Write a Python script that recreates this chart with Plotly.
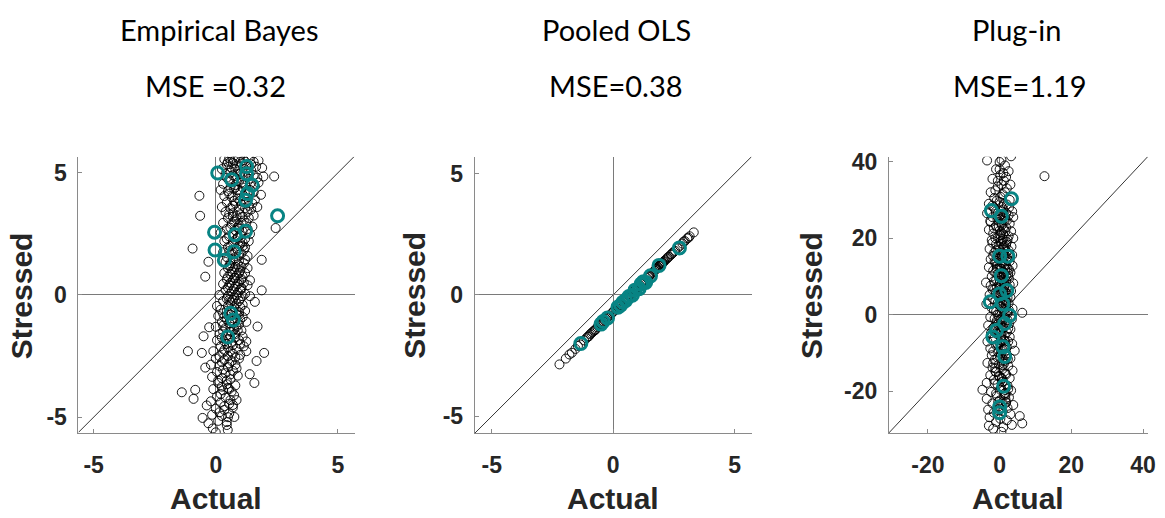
import plotly.graph_objects as go

W, H = 1165, 518

# ---------------- Data ----------------
# Panel 1: Empirical Bayes (black = all, teal = highlighted)
eb_x = [0.35,0.55,0.75,0.95,1.15,1.35,1.55,1.75,0.45,0.85,1.05,1.25,1.65,0.25,0.65,0.9,1.45,1.9,0.4,0.7,1.1,1.7,1.95,0.55,0.95,1.35,0.3,0.8,1.2,1.6,
        0.2,0.5,0.75,1.0,1.4,1.85,0.35,0.65,0.9,1.15,1.6,0.45,0.8,1.05,1.35,1.7,0.25,0.6,0.95,
        0.4,0.7,1.0,1.3,1.55,0.5,0.85,1.15,0.3,0.65,0.95,1.25,1.5,0.45,0.8,1.1,0.2,1.4,
        0.55,0.9,1.2,0.35,0.7,1.0,1.35,0.5,0.85,1.15,0.3,0.65,0.95,1.3,0.45,0.8,
        0.4,0.6,0.9,1.15,0.5,0.75,1.0,1.3,0.35,0.6,0.85,1.1,0.45,0.7,0.95,1.4,
        0.3,0.55,0.8,1.05,1.3,0.4,0.65,0.9,1.2,0.15,0.5,0.75,1.0,1.4,0.3,0.6,0.85,1.1,0.05,
        0.2,0.45,0.7,0.95,1.2,0.1,0.35,0.85,1.1,0.25,0.55,0.95,1.25,0.0,0.4,0.75,1.05,
        0.15,0.45,0.8,1.1,0.05,0.35,0.65,0.95,1.25,0.2,0.5,0.85,1.15,-0.1,0.3,0.7,1.0,
        0.0,0.35,0.65,0.95,-0.2,0.15,0.5,0.8,0.05,0.4,0.7,-0.15,0.25,0.6,0.9,
        0.1,0.45,0.8,-0.1,0.3,0.65,0.05,0.4,0.75,-0.2,0.2,0.55,0.85,
        0.0,0.35,0.7,-0.15,0.25,0.55,0.1,0.45,-0.3,
        -0.67,-0.64,-0.95,-0.43,-0.3,2.39,2.45,1.88,1.88,1.6,1.71,1.98,1.67,1.39,1.58,-1.14,-0.57,-0.5,-0.27,-1.39,-0.84,-0.91,-0.54,-0.37,-0.12,0.0,0.45,0.49,0.76,-0.43,
        0.6,1.0,0.8,0.7,0.9,1.1,0.6,0.75,1.05,0.55,0.95,0.65,1.25,0.85,0.5,0.7,
        0.5,0.7,1.0,1.2,1.45,0.6,0.8,1.0,1.3,1.55,0.45,0.85,1.05,1.45,1.75,0.6,0.9,1.1,1.3,1.55,0.55,0.75,1.0,1.25,1.5,0.7,1.2,1.45,
        0.55,0.85,1.1,1.35,0.75,1.05,0.6,0.95,1.3,0.7,1.0,0.45,0.8,1.1,0.6,0.95,1.2,0.55,0.8,1.05,0.7,0.95,1.2,0.55,0.8,1.05,
        0.65,0.95,1.2,0.5,0.8,1.05,0.6,0.9,1.15,0.5,0.75,1.0,0.6,0.85,1.1,0.45,0.7,0.95,0.5,0.75,1.0,0.3,0.6,0.85,0.45,0.7,1.0,
        0.3,0.6,0.85,0.3,0.6,0.9,0.25,0.55,0.8,0.45,0.7,1.0,0.35,0.6,0.15,0.5,0.8,0.25,0.55,0.3,0.6,0.1,0.45,0.25,0.55,0.2,0.6,0.35,0.15,0.5]
eb_y = [5.55,5.6,5.5,5.58,5.52,5.6,5.45,5.5,5.35,5.3,5.38,5.3,5.25,5.15,5.2,5.05,5.1,5.2,4.95,4.9,4.85,4.8,4.85,4.7,4.65,4.75,4.55,4.5,4.55,4.45,
        4.3,4.25,4.35,4.2,4.3,4.1,4.05,4.0,3.95,4.05,3.9,3.8,3.75,3.7,3.65,3.6,3.6,3.55,3.5,
        3.4,3.35,3.3,3.4,3.25,3.15,3.1,3.05,2.95,2.9,2.85,2.95,2.8,2.7,2.65,2.6,2.55,2.5,
        2.4,2.35,2.3,2.2,2.15,2.1,2.2,1.95,1.9,1.85,1.75,1.7,1.65,1.6,1.55,1.5,
        1.35,1.3,1.25,1.3,1.1,1.05,1.0,1.1,0.9,0.85,0.8,0.75,0.65,0.6,0.55,0.6,
        0.45,0.4,0.35,0.3,0.4,0.2,0.15,0.1,0.05,0.0,-0.05,-0.1,-0.15,-0.05,-0.25,-0.3,-0.35,-0.4,-0.45,
        -0.6,-0.65,-0.6,-0.7,-0.65,-0.85,-0.9,-0.95,-0.9,-1.1,-1.15,-1.2,-1.1,-1.3,-1.35,-1.4,-1.45,
        -1.6,-1.65,-1.6,-1.7,-1.85,-1.9,-1.95,-1.85,-1.9,-2.1,-2.15,-2.2,-2.1,-2.3,-2.35,-2.4,-2.45,
        -2.6,-2.65,-2.7,-2.6,-2.85,-2.9,-2.95,-2.85,-3.15,-3.2,-3.1,-3.35,-3.4,-3.45,-3.3,
        -3.6,-3.65,-3.7,-3.85,-3.9,-3.95,-4.15,-4.2,-4.1,-4.35,-4.4,-4.45,-4.3,
        -4.65,-4.7,-4.6,-4.9,-4.95,-4.85,-5.15,-5.2,-5.25,
        4.06,3.24,1.9,0.75,1.36,4.85,2.74,1.44,0.19,-0.28,-1.29,-2.37,-2.7,-3.24,-3.6,-2.3,-2.37,-1.69,-1.32,-3.98,-3.88,-4.25,-5.03,-4.52,-5.46,-5.62,-5.32,-5.52,-4.99,-2.97,
        5.45,5.0,4.4,3.2,2.75,2.0,1.2,0.7,0.25,-0.2,-0.8,-1.5,-2.3,-3.0,-3.8,-4.5,
        5.45,5.4,5.45,5.45,5.35,5.0,5.15,4.95,5.0,4.9,4.8,4.75,4.6,4.6,4.6,4.4,4.3,4.4,4.15,4.2,4.15,3.85,3.85,3.8,3.75,3.65,3.55,3.5,
        3.3,3.25,3.2,3.15,3.0,2.95,2.75,2.7,2.7,2.5,2.45,2.3,2.25,2.15,2.0,2.0,1.95,1.8,1.75,1.7,1.45,1.4,1.45,1.2,1.15,1.15,
        0.95,0.9,0.9,0.75,0.7,0.65,0.5,0.45,0.5,0.3,0.25,0.2,0.05,0.0,-0.05,-0.15,-0.2,-0.25,-0.45,-0.5,-0.5,-0.75,-0.8,-0.8,-1.0,-1.05,-1.0,
        -1.25,-1.3,-1.3,-1.5,-1.5,-1.45,-1.75,-1.8,-1.75,-2.0,-2.05,-2.0,-2.25,-2.3,-2.5,-2.5,-2.55,-2.75,-2.8,-3.05,-3.25,-3.5,-3.5,-3.75,-3.85,-4.05,-4.3,-4.55,-4.8,-5.0]
eb_tx = [0.08,0.65,1.26,1.26,1.49,1.30,1.22,2.53,-0.05,1.22,0.79,-0.03,0.75,0.35,0.61,0.72,0.49]
eb_ty = [4.99,4.72,5.26,4.96,4.49,4.15,3.88,3.24,2.57,2.61,2.47,1.84,1.77,1.42,-0.75,-1.02,-1.72]

# Panel 2: Pooled OLS
po_x = [-2.21,-1.95,-1.8,-1.7,-1.55,-1.45,-1.35,-1.2,-1.1,-1.0,-0.9,-0.8,-0.72,-0.65,-0.55,-0.48,-0.4,-0.3,-0.22,-0.15,
        -0.05,0.05,0.12,0.2,0.28,0.35,0.42,0.5,0.58,0.65,0.72,0.8,0.88,0.95,1.02,1.1,1.18,1.25,1.32,1.4,
        1.48,1.55,1.62,1.7,1.78,1.85,1.92,2.0,2.08,2.15,2.22,2.3,2.38,2.45,2.55,2.65,2.75,2.85,2.95,3.05,3.15,3.32,
        0.3,0.6,0.9,1.2,1.5,1.8,2.1,-0.35,-0.6,0.15,1.95,2.05,-1.05,-0.85,2.5,2.9,3.1,
        -0.95,-0.75,-0.5,-0.25,0.0,0.25,0.55,0.85,1.15,1.45,1.75,2.02,2.25,2.4,1.9,1.98]
po_y = [-2.86,-2.62,-2.45,-2.38,-2.22,-2.1,-2.04,-1.87,-1.78,-1.7,-1.58,-1.48,-1.42,-1.33,-1.22,-1.18,-1.1,-0.98,-0.9,-0.85,
        -0.74,-0.64,-0.58,-0.48,-0.42,-0.34,-0.28,-0.2,-0.12,-0.05,0.02,0.1,0.18,0.25,0.32,0.4,0.47,0.55,0.62,0.7,
        0.78,0.85,0.92,1.0,1.08,1.15,1.22,1.3,1.37,1.44,1.5,1.58,1.66,1.73,1.82,1.93,2.03,2.12,2.22,2.33,2.42,2.58,
        -0.4,-0.1,0.2,0.5,0.8,1.1,1.4,-1.05,-1.28,-0.55,1.27,1.33,-1.72,-1.53,1.78,2.2,2.36,
        -1.62,-1.45,-1.2,-0.93,-0.7,-0.45,-0.15,0.15,0.45,0.75,1.05,1.32,1.55,1.68,1.2,1.25]
po_tx = [-1.33,-0.41,-0.23,0.31,0.52,0.79,1.07,1.34,1.54,1.89,2.73,0.4,0.65,0.9,1.15,1.25,0.2,-0.5]
po_ty = [-2.0,-1.09,-0.95,-0.42,-0.22,-0.01,0.26,0.52,0.79,1.22,1.94,-0.3,-0.06,0.2,0.45,0.55,-0.5,-1.2]

# Panel 3: Plug-in
pi_x = [0.5,-3.5,0.0,3.2,1.5,-1.0,2.5,0.2,-2.0,1.2,3.0,-0.5,2.0,-2.5,0.8,-1.5,2.8,12.5,
        -3.0,0.0,2.0,-1.5,1.0,3.5,-3.5,-0.5,2.5,-2.0,1.5,3.8,0.0,
        -2.5,0.5,2.8,-1.0,1.8,-3.0,0.0,3.2,-1.8,1.0,2.5,-0.5,3.8,
        -2.2,0.3,2.0,-1.0,1.3,3.3,-2.8,0.0,2.5,-1.5,1.0,3.5,-0.5,2.0,
        -2.5,0.5,2.8,-1.2,1.5,3.6,-3.0,0.0,2.2,-1.8,1.0,3.0,-0.6,1.8,-2.2,
        0.2,2.6,-3.8,-1.0,1.2,3.8,-2.5,0.0,2.2,-1.5,1.0,3.2,-0.3,2.0,-2.8,
        0.8,3.0,-1.8,1.5,-3.7,-0.5,2.5,0.3,-2.2,3.6,1.2,-1.0,6.3,2.2,0.0,
        -2.6,1.5,3.4,-0.8,0.6,2.6,-3.2,-1.5,1.0,3.0,-0.5,2.0,-2.4,
        0.5,2.8,-1.8,1.2,-3.4,0.0,3.5,-1.0,2.0,-2.6,0.8,4.2,-0.4,
        1.8,-2.2,0.2,3.0,-1.4,1.2,-3.4,-0.2,2.4,-2.0,0.8,3.6,-1.0,
        1.6,-2.6,0.0,2.8,-1.6,1.0,-3.6,-0.6,2.2,-4.8,0.4,3.2,
        -2.4,1.4,-0.8,2.6,-3.6,0.0,1.8,-2.0,3.8,-0.4,2.2,-3.2,
        0.8,-1.6,3.0,5.6,-2.8,0.2,2.0,-1.0,6.3,3.4,-3.0,1.0,0.5,-1.8,
        0.5,1.5,0.8,0.2,1.6,0.6,1.4,0.4,1.8,0.6,1.2,0.2,1.6,0.4,1.2,0.6,1.6,0.8,1.2,0.4,1.4,0.7,
        -0.2,0.9,1.9,-0.8,0.1,1.1,2.1,-0.6,0.3,1.3,2.3,-1.2,0.7,1.7,-0.4,0.9,1.5,-0.9,0.2,2.4,
        0.0,1.0,-0.5,1.8,0.5,-1.2,1.5,0.2,-0.8,1.2,-2.0,0.6,2.6,-1.0,1.8,0.2,-2.6,1.0,2.0,-0.6,0.6,-1.6,1.6,0.2,-1.2,2.2,0.8,-2.0,1.8,-0.2,
        1.0,-1.0,2.6,0.4,-1.8,1.4,-0.4,2.2,-1.4,0.6,1.8,-0.8,0.4,2.6,-1.2,1.2,-0.2,2.4,0.8,-1.6,1.8,0.0,2.8,-0.8,1.2,-2.0,0.4,2.4,-1.0,1.6,
        0.2,2.2,-1.2,0.8,-0.2,1.8,-1.6,0.6,2.6,-0.6,1.4,-1.4,0.2,2.2,-0.4,1.6,-1.8,0.4,2.4,-0.8,1.4,-1.6,0.6,2.4,-0.6,1.6,-1.8,0.4,2.0,-0.6,
        1.2,-1.8,0.8,-1.2,1.8,-0.2,0.6,-1.4,2.4,0.2,-1.0,1.6,-0.4,1.8]
pi_y = [40.5,40.3,39.9,41.4,39.0,38.0,37.5,36.5,35.5,35.0,34.0,33.5,33.0,32.0,31.5,30.5,30.0,36.2,
        29.0,29.5,28.8,28.0,27.5,27.0,26.5,26.5,26.0,25.5,25.2,25.5,25.0,
        24.2,24.0,23.8,23.2,22.8,22.2,22.0,21.8,21.2,21.0,20.5,20.2,20.0,
        19.5,19.2,19.0,18.4,18.0,17.8,17.2,17.0,16.8,16.2,16.0,15.6,15.2,15.0,
        14.5,14.2,14.0,13.5,13.2,12.8,12.4,12.2,12.0,11.5,11.2,11.0,10.5,10.2,10.0,
        9.6,9.4,8.4,9.0,8.6,8.2,7.6,7.4,7.2,6.6,6.4,6.2,5.6,5.4,5.2,
        4.8,4.5,4.2,3.8,2.8,3.2,3.0,2.2,1.8,1.6,1.2,0.8,0.5,0.4,0.2,
        -0.6,-0.8,-1.2,-1.6,-2.0,-2.4,-2.8,-3.2,-3.4,-3.8,-4.2,-4.6,-4.8,
        -5.4,-5.8,-6.2,-6.6,-7.0,-7.4,-7.6,-8.0,-8.4,-8.8,-9.2,-9.4,-9.8,
        -10.2,-10.6,-11.0,-11.4,-11.8,-12.2,-12.6,-13.0,-13.4,-13.8,-14.2,-14.6,-15.0,
        -15.4,-15.8,-16.2,-16.6,-17.0,-17.4,-17.8,-18.2,-18.6,-19.6,-19.2,-19.8,
        -20.2,-20.6,-21.2,-21.6,-22.0,-22.4,-22.8,-23.2,-23.6,-24.0,-24.4,-24.8,
        -25.2,-25.6,-26.0,-26.5,-26.8,-27.2,-27.6,-28.0,-28.4,-28.8,-29.0,-29.4,-30.6,-29.8,
        18.5,17.0,14.8,13.0,11.8,9.8,7.8,6.0,3.6,1.6,-1.2,-4.8,-7.0,-9.4,-12.8,-16.8,-21.0,-23.4,22.5,21.5,24.6,27.0,
        23.0,19.8,16.4,12.0,8.8,4.0,1.0,-2.6,-6.0,-9.0,-11.6,-14.0,-17.6,-20.4,-25.0,-3.6,5.0,14.0,20.8,10.8,
        38.0,37.0,35.0,36.0,34.0,32.5,32.0,30.8,29.8,29.0,28.5,28.2,28.0,27.0,26.5,26.0,24.5,25.4,24.6,24.8,23.4,22.6,21.8,20.8,20.0,19.6,19.4,18.8,18.2,17.8,
        17.6,16.8,16.0,15.8,15.4,15.2,14.6,14.4,14.0,13.6,13.0,12.6,12.0,11.8,11.0,10.6,10.0,10.2,9.2,8.8,8.8,8.2,7.8,7.2,7.0,6.6,6.6,6.4,5.8,5.8,
        4.6,4.4,3.6,3.4,2.6,2.4,1.2,0.8,1.2,0.0,0.2,-1.0,-1.2,-1.4,-2.4,-2.8,-3.6,-3.8,-3.6,-5.0,-5.4,-6.4,-6.8,-7.0,-7.8,-8.4,-9.6,-10.2,-10.6,-11.2,
        -11.8,-12.6,-13.2,-14.8,-15.6,-16.0,-16.6,-18.0,-19.4,-19.6,-20.6,-22.0,-22.8,-23.0]
pi_tx = [3.3,-2.3,0.5,0.0,2.3,0.5,0.0,2.0,-2.6,0.9,2.8,1.4,-0.9,-1.9,0.9,1.4,1.1,0.0,0.0]
pi_ty = [30.3,27.2,25.7,15.3,15.3,10.2,5.4,6.3,3.4,2.8,-0.2,-2.3,-4.1,-5.8,-8.4,-10.9,-18.7,-24.1,-25.6]

titles = ["Empirical Bayes", "Pooled OLS", "Plug-in"]
mse_labels = ["MSE =0.32", "MSE=0.38", "MSE=1.19"]
lims = [(-5.66, 5.66), (-5.7, 5.7), (-31.0, 41.3)]
xlims = [(-5.62, 5.68), (-5.7, 5.71), (-30.9, 41.4)]
ticks = [[-5, 0, 5], [-5, 0, 5], [-20, 0, 20, 40]]
tick_text = [["-5", "0", "5"], ["-5", "0", "5"], ["-20", "0", "20", "40"]]

# layout geometry (pixels)
xdom_px = [(79, 357), (478, 757), (895, 1156)]
ydom_px = (151, 432)
title_cx = [221, 621, 1024]
mse_cx = [217, 620, 1027]
ylab_cx = [22, 417, 817]
xlab_cx = [217, 617, 1025]

TEAL = "#088484"
AX = "#8a8a8a"
TXT = "#262626"
TICKFONT = dict(family="Liberation Sans", size=23, color=TXT, weight="bold")

fig = go.Figure()
datasets = [(eb_x, eb_y, eb_tx, eb_ty), (po_x, po_y, po_tx, po_ty), (pi_x, pi_y, pi_tx, pi_ty)]

for i, (bx, by, tx, ty) in enumerate(datasets):
    xa = "x" if i == 0 else f"x{i+1}"
    ya = "y" if i == 0 else f"y{i+1}"
    fig.add_trace(go.Scatter(x=bx, y=by, mode="markers", xaxis=xa, yaxis=ya,
                             marker=dict(symbol="circle-open", size=9, color="black",
                                         line=dict(width=0.9, color="black")),
                             showlegend=False, hoverinfo="skip"))
    fig.add_trace(go.Scatter(x=tx, y=ty, mode="markers", xaxis=xa, yaxis=ya,
                             marker=dict(symbol="circle-open", size=12, color=TEAL,
                                         line=dict(width=3, color=TEAL)),
                             showlegend=False, hoverinfo="skip"))
    lo = max(xlims[i][0], lims[i][0])
    hi = min(xlims[i][1], lims[i][1])
    fig.add_shape(type="line", xref=xa, yref=ya, x0=lo, y0=lo, x1=hi, y1=hi,
                  line=dict(color="black", width=0.8), layer="below")

    ax_common = dict(showgrid=False, zeroline=True, zerolinecolor="#7a7a7a", zerolinewidth=1,
                     showline=True, linecolor=AX, linewidth=1, ticks="inside", ticklen=4,
                     tickcolor=AX, tickwidth=1, mirror=False, tickfont=TICKFONT)
    xd = (xdom_px[i][0] / W, xdom_px[i][1] / W)
    yd = (1 - ydom_px[1] / H, 1 - ydom_px[0] / H)
    xkey = "xaxis" if i == 0 else f"xaxis{i+1}"
    ykey = "yaxis" if i == 0 else f"yaxis{i+1}"
    fig.update_layout(**{
        xkey: dict(domain=xd, range=list(xlims[i]), tickvals=ticks[i], ticktext=tick_text[i],
                   anchor=ya, ticklabelstandoff=11, **ax_common),
        ykey: dict(domain=yd, range=list(lims[i]), tickvals=ticks[i], ticktext=tick_text[i],
                   anchor=xa, ticklabelstandoff=6, **ax_common),
    })

    fig.add_annotation(text=titles[i], x=title_cx[i] / W, y=1 - 22 / H, xref="paper", yref="paper",
                       showarrow=False, xanchor="center", yanchor="middle",
                       font=dict(family="Lato", size=29, color="black"))
    fig.add_annotation(text=mse_labels[i], x=mse_cx[i] / W, y=1 - 79 / H, xref="paper", yref="paper",
                       showarrow=False, xanchor="center", yanchor="middle",
                       font=dict(family="Lato", size=29, color="black"))
    fig.add_annotation(text="<b>Stressed</b>", x=ylab_cx[i] / W, y=1 - 292 / H, xref="paper", yref="paper",
                       showarrow=False, xanchor="center", yanchor="middle", textangle=-90,
                       font=dict(family="Liberation Sans", size=30, color=TXT))
    fig.add_annotation(text="<b>Actual</b>", x=xlab_cx[i] / W, y=1 - 498 / H, xref="paper", yref="paper",
                       showarrow=False, xanchor="center", yanchor="middle",
                       font=dict(family="Liberation Sans", size=30, color=TXT))

fig.update_layout(width=W, height=H, margin=dict(l=0, r=0, t=0, b=0),
                  paper_bgcolor="white", plot_bgcolor="white")

fig.write_html("out.html", config={"displayModeBar": False})
